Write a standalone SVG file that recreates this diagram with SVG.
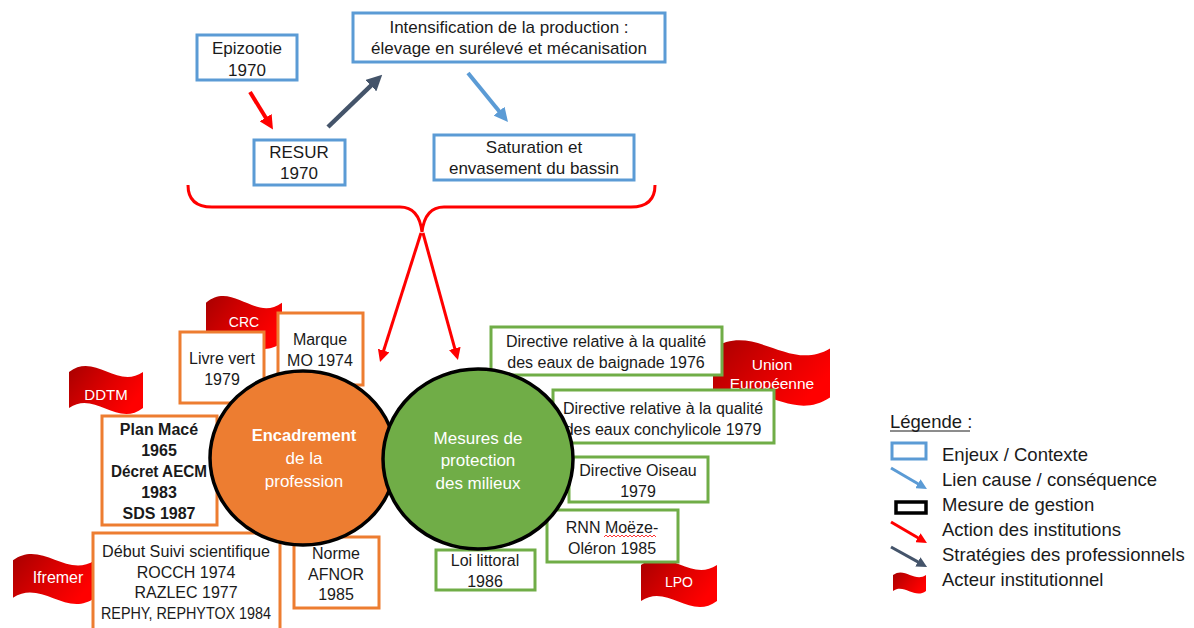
<svg xmlns="http://www.w3.org/2000/svg" xmlns:xlink="http://www.w3.org/1999/xlink" width="1194" height="628" viewBox="0 0 1194 628">
<style>
.blue{fill:#fff;stroke:#5B9BD5;stroke-width:3}
.orange{fill:#fff;stroke:#ED7D31;stroke-width:3}
.green{fill:#fff;stroke:#70AD47;stroke-width:3}
.t{font-family:"Liberation Sans",Arial,sans-serif;font-size:16px;fill:#1a1a1a;text-anchor:middle}
.t17{font-size:17px}
.b{font-weight:bold}
.w{fill:#fff}
.leg{font-family:"Liberation Sans",Arial,sans-serif;font-size:18.5px;fill:#1a1a1a}
.red{stroke:#FF0000;fill:none}
.dark{stroke:#44546A;fill:none}
.lblue{stroke:#5B9BD5;fill:none}
</style>
<defs>
<linearGradient id="fg" x1="0" y1="0" x2="1" y2="0.5">
<stop offset="0" stop-color="#A80000"/>
<stop offset="0.6" stop-color="#E00000"/>
<stop offset="1" stop-color="#FF0000"/>
</linearGradient>
<path id="flag" d="M0,14 C35,-26 65,50 100,14 L100,86 C65,126 35,50 0,86 Z" fill="url(#fg)"/>
<marker id="ahR" viewBox="0 0 10 10" refX="1" refY="5" markerWidth="3.5" markerHeight="3.5" orient="auto" markerUnits="strokeWidth"><path d="M0,0 L10,5 L0,10 Z" fill="#FF0000"/></marker>
<marker id="ahD" viewBox="0 0 10 10" refX="1" refY="5" markerWidth="3.5" markerHeight="3.5" orient="auto" markerUnits="strokeWidth"><path d="M0,0 L10,5 L0,10 Z" fill="#44546A"/></marker>
<marker id="ahB" viewBox="0 0 10 10" refX="1" refY="5" markerWidth="3.5" markerHeight="3.5" orient="auto" markerUnits="strokeWidth"><path d="M0,0 L10,5 L0,10 Z" fill="#5B9BD5"/></marker>
<marker id="ahR4" viewBox="0 0 10 10" refX="1" refY="5" markerWidth="4" markerHeight="4" orient="auto" markerUnits="strokeWidth"><path d="M0,0 L10,5 L0,10 Z" fill="#FF0000"/></marker>
</defs>
<rect width="1194" height="628" fill="#fff"/>

<!-- flags (institutional actors) -->
<g id="flag-crc"><use xlink:href="#flag" href="#flag" transform="translate(206,295) scale(0.76,0.55)"/><text class="t w" x="244" y="327" style="font-size:14px">CRC</text></g>
<g id="flag-ddtm"><use xlink:href="#flag" href="#flag" transform="translate(69,365) scale(0.74,0.5)"/><text class="t w" x="106" y="400" style="font-size:15px">DDTM</text></g>
<g id="flag-ifremer"><use xlink:href="#flag" href="#flag" transform="translate(13,553) scale(0.82,0.52)"/><text class="t w" x="58" y="583" style="font-size:16px">Ifremer</text></g>
<g id="flag-ue"><use xlink:href="#flag" href="#flag" transform="translate(713,339) scale(1.17,0.68)"/><text class="t w" x="772" y="370" style="font-size:15.5px">Union</text><text class="t w" x="772" y="389" style="font-size:15.5px">Européenne</text></g>
<g id="flag-lpo"><use xlink:href="#flag" href="#flag" transform="translate(641,558) scale(0.76,0.5)"/><text class="t w" x="679" y="587" style="font-size:14px">LPO</text></g>

<!-- top context nodes -->
<g id="epizootie"><rect class="blue" x="197" y="35" width="100" height="45"/><text class="t t17" x="247" y="54">Epizootie</text><text class="t t17" x="247" y="76">1970</text></g>
<g id="intensification"><rect class="blue" x="353" y="13" width="312" height="49"/><text class="t t17" x="509" y="33">Intensification de la production :</text><text class="t t17" x="509" y="54">élevage en surélevé et mécanisation</text></g>
<g id="resur"><rect class="blue" x="254" y="140" width="91" height="45"/><text class="t t17" x="299" y="158">RESUR</text><text class="t t17" x="299" y="179">1970</text></g>
<g id="saturation"><rect class="blue" x="434" y="135" width="200" height="45"/><text class="t t17" x="534" y="153">Saturation et</text><text class="t t17" x="534" y="174">envasement du bassin</text></g>

<!-- orange measures -->
<g id="livre-vert"><rect class="orange" x="180" y="332" width="84" height="71"/><text class="t" x="222" y="364">Livre vert</text><text class="t" x="222" y="385">1979</text></g>
<g id="marque-mo"><rect class="orange" x="278" y="313" width="85" height="72"/><text class="t" x="320" y="345">Marque</text><text class="t" x="320" y="366">MO 1974</text></g>
<g id="plan-mace"><rect class="orange" x="102" y="416" width="115" height="109"/><text class="t b" x="159" y="435">Plan Macé</text><text class="t b" x="159" y="456">1965</text><text class="t b" x="159" y="477" textLength="96" lengthAdjust="spacingAndGlyphs">Décret AECM</text><text class="t b" x="159" y="498">1983</text><text class="t b" x="159" y="519">SDS 1987</text></g>
<g id="suivi"><rect class="orange" x="93" y="533" width="187" height="100"/><text class="t" x="186" y="557" textLength="168" lengthAdjust="spacingAndGlyphs">Début Suivi scientifique</text><text class="t" x="186" y="578">ROCCH 1974</text><text class="t" x="186" y="598">RAZLEC 1977</text><text class="t" x="186" y="619" textLength="170" lengthAdjust="spacingAndGlyphs">REPHY, REPHYTOX 1984</text></g>
<g id="norme-afnor"><rect class="orange" x="294" y="537" width="85" height="71"/><text class="t" x="336" y="559">Norme</text><text class="t" x="336" y="580">AFNOR</text><text class="t" x="336" y="600">1985</text></g>

<!-- green measures -->
<g id="dir-baignade"><rect class="green" x="491" y="327" width="231" height="48"/><text class="t" x="606" y="347">Directive relative à la qualité</text><text class="t" x="606" y="368">des eaux de baignade 1976</text></g>
<g id="dir-conchylicole"><rect class="green" x="553" y="390" width="221" height="53"/><text class="t" x="663" y="414">Directive relative à la qualité</text><text class="t" x="663" y="435">des eaux conchylicole 1979</text></g>
<g id="dir-oiseau"><rect class="green" x="569" y="457" width="139" height="45"/><text class="t" x="638" y="476">Directive Oiseau</text><text class="t" x="638" y="497">1979</text></g>
<g id="rnn"><rect class="green" x="547" y="510" width="131" height="52"/><text class="t" x="612" y="533">RNN Moëze-</text><path d="M604,537 l2,-2 l2,2 l2,-2 l2,2 l2,-2 l2,2 l2,-2 l2,2 l2,-2 l2,2 l2,-2 l2,2 l2,-2 l2,2 l2,-2 l2,2 l2,-2 l2,2 l2,-2 l2,2 l2,-2 l2,2 l2,-2 l2,2 l2,-2 l2,2" fill="none" stroke="#FF0000" stroke-width="0.8"/><text class="t" x="612" y="554">Oléron 1985</text></g>
<g id="loi-littoral"><rect class="green" x="436" y="550" width="99" height="40"/><text class="t" x="485" y="566">Loi littoral</text><text class="t" x="485" y="587">1986</text></g>

<!-- circles -->
<g id="encadrement"><ellipse cx="303" cy="458" rx="93" ry="87" fill="#ED7D31" stroke="#000" stroke-width="3.5"/><text class="t w b" x="304" y="441" style="font-size:16.5px">Encadrement</text><text class="t w t17" x="304" y="464">de la</text><text class="t w t17" x="304" y="487">profession</text></g>
<g id="protection"><ellipse cx="478" cy="459" rx="95" ry="90" fill="#70AD47" stroke="#000" stroke-width="3.5"/><text class="t w t17" x="478" y="444">Mesures de</text><text class="t w t17" x="478" y="466">protection</text><text class="t w t17" x="478" y="489">des milieux</text></g>

<!-- connectors -->
<g id="connectors">
<line class="red" x1="250" y1="92" x2="266.4" y2="118.8" stroke-width="4" marker-end="url(#ahR)"/>
<line class="dark" x1="328" y1="127" x2="372" y2="84.6" stroke-width="4.5" marker-end="url(#ahD)"/>
<line class="lblue" x1="468" y1="73" x2="500" y2="112.2" stroke-width="4" marker-end="url(#ahB)"/>
<path class="red" d="M188,185 Q188,207 212,207 L400,207 Q419,207 422,232 Q425,207 444,207 L631,207 Q655,207 655,185" stroke-width="3"/>
<line class="red" x1="421" y1="233" x2="383.3" y2="351.7" stroke-width="3" marker-end="url(#ahR4)"/>
<line class="red" x1="423" y1="233" x2="455.1" y2="349.6" stroke-width="3" marker-end="url(#ahR4)"/>
</g>

<!-- legend -->
<g id="legend">
<text class="leg" x="890" y="428">Légende :</text>
<line x1="890" y1="431" x2="970" y2="431" stroke="#1a1a1a" stroke-width="1"/>
<rect x="892" y="443" width="34" height="16" fill="none" stroke="#5B9BD5" stroke-width="3"/>
<text class="leg" x="942" y="461">Enjeux / Contexte</text>
<line class="lblue" x1="891" y1="468" x2="918.8" y2="484.2" stroke-width="3" marker-end="url(#ahB)"/>
<text class="leg" x="942" y="486">Lien cause / conséquence</text>
<rect x="896" y="502" width="30" height="11" fill="none" stroke="#000" stroke-width="3.5"/>
<text class="leg" x="942" y="511">Mesure de gestion</text>
<line class="red" x1="891" y1="522" x2="918.8" y2="538.2" stroke-width="3" marker-end="url(#ahR)"/>
<text class="leg" x="942" y="536">Action des institutions</text>
<line class="dark" x1="891" y1="547" x2="918.8" y2="562.4" stroke-width="3" marker-end="url(#ahD)"/>
<text class="leg" x="942" y="561">Stratégies des professionnels</text>
<use xlink:href="#flag" href="#flag" transform="translate(893,572) scale(0.33,0.22)"/>
<text class="leg" x="942" y="586">Acteur institutionnel</text>
</g>
</svg>
